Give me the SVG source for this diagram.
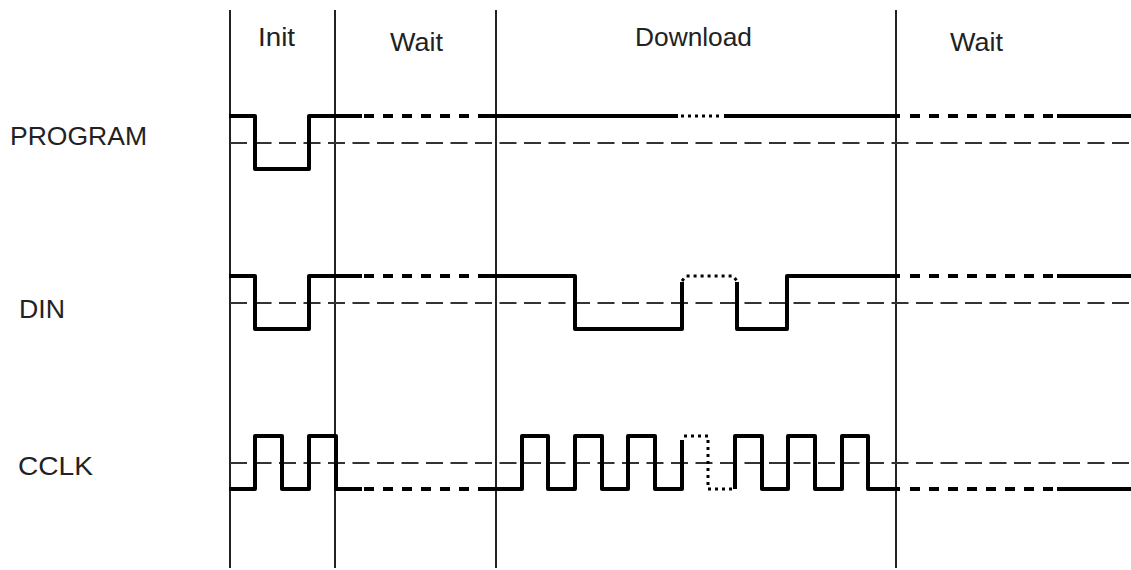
<svg xmlns="http://www.w3.org/2000/svg" width="1131" height="570" viewBox="0 0 1131 570">
<style>
  text { font-family: "Liberation Sans", Arial, sans-serif; font-size: 25px; fill: #222; }
  .vl { stroke: #222; stroke-width: 2; fill: none; }
  .mid { stroke: #333; stroke-width: 2; stroke-dasharray: 17 7.5; fill: none; }
  .sig { stroke: #000; stroke-width: 4; fill: none; stroke-linejoin: round; }
  .dash { stroke: #000; stroke-width: 4; fill: none; stroke-dasharray: 10 9; }
  .dot { stroke: #000; stroke-width: 3; fill: none; stroke-dasharray: 3 4; }
</style>
<rect width="1131" height="570" fill="#fff"/>
<g id="phases">
  <line class="vl" x1="230" y1="10" x2="230" y2="568"/>
  <line class="vl" x1="335" y1="10" x2="335" y2="568"/>
  <line class="vl" x1="496" y1="10" x2="496" y2="568"/>
  <line class="vl" x1="896" y1="10" x2="896" y2="568"/>
  <text x="258" y="46" textLength="37" lengthAdjust="spacingAndGlyphs">Init</text>
  <text x="390" y="51" textLength="53" lengthAdjust="spacingAndGlyphs">Wait</text>
  <text x="635" y="46" textLength="117" lengthAdjust="spacingAndGlyphs">Download</text>
  <text x="950" y="51" textLength="53" lengthAdjust="spacingAndGlyphs">Wait</text>
</g>
<g id="labels">
  <text x="10" y="145" textLength="137" lengthAdjust="spacingAndGlyphs">PROGRAM</text>
  <text x="19" y="318" textLength="46" lengthAdjust="spacingAndGlyphs">DIN</text>
  <text x="18" y="475" textLength="75" lengthAdjust="spacingAndGlyphs">CCLK</text>
</g>
<g id="reference-lines">
  <line class="mid" x1="230" y1="143" x2="1131" y2="143"/>
  <line class="mid" x1="230" y1="303" x2="1131" y2="303"/>
  <line class="mid" x1="230" y1="463" x2="1131" y2="463"/>
</g>
<g id="program">
  <path class="sig" d="M229,116 H255 V169 H309 V116 H362"/>
  <path class="dash" d="M364,116 H490"/>
  <path class="sig" d="M486,116 H678"/>
  <path class="dot" d="M681,116 H722"/>
  <path class="sig" d="M724,116 H900"/>
  <path class="dash" d="M910,116 H1057"/>
  <path class="sig" d="M1057,116 H1131"/>
</g>
<g id="din">
  <path class="sig" d="M229,276 H255 V329 H309 V276 H362"/>
  <path class="dash" d="M364,276 H490"/>
  <path class="sig" d="M486,276 H575 V329 H682 V282"/>
  <path class="dot" d="M682,281 L686,276 H733 L737,281"/>
  <path class="sig" d="M737,282 V329 H787 V276 H900"/>
  <path class="dash" d="M910,276 H1057"/>
  <path class="sig" d="M1057,276 H1131"/>
</g>
<g id="cclk">
  <path class="sig" d="M229,489 H255 V436 H282 V489 H309 V436 H336 V489 H362"/>
  <path class="dash" d="M364,489 H490"/>
  <path class="sig" d="M486,489 H522 V436 H548 V489 H575 V436 H602 V489 H628 V436 H655 V489 H682 V440"/>
  <path class="dot" d="M684,436 H708 V489 H733"/>
  <path class="sig" d="M735,489 V436 H762 V489 H788 V436 H815 V489 H842 V436 H868 V489 H900"/>
  <path class="dash" d="M910,489 H1057"/>
  <path class="sig" d="M1057,489 H1131"/>
</g>
</svg>
